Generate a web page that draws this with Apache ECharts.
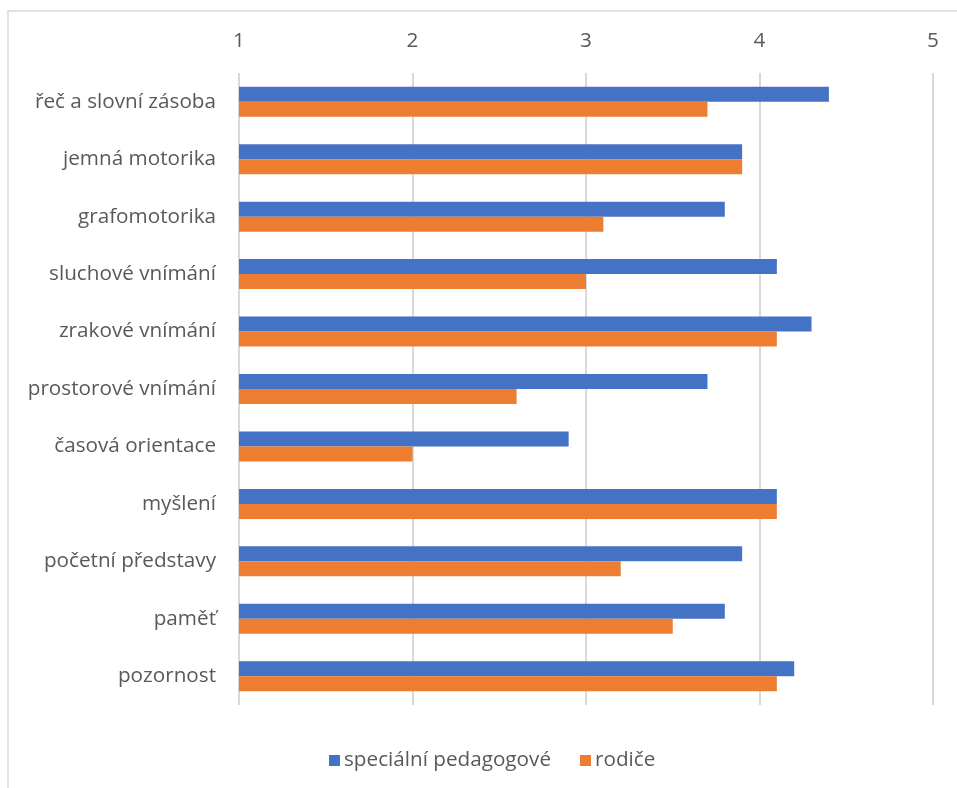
<!DOCTYPE html>
<html>
<head>
<meta charset="utf-8">
<script src="https://cdn.jsdelivr.net/npm/echarts@6/dist/echarts.min.js"></script>
<style>
  html, body { margin: 0; padding: 0; background: #ffffff; }
  #chart { width: 957px; height: 788px; }
</style>
</head>
<body>
<div id="chart"></div>
<script>
// Skills assessed, listed top to bottom
const categories = [
  'řeč a slovní zásoba',
  'jemná motorika',
  'grafomotorika',
  'sluchové vnímání',
  'zrakové vnímání',
  'prostorové vnímání',
  'časová orientace',
  'myšlení',
  'početní představy',
  'paměť',
  'pozornost'
];

// Average ratings (scale 1–5)
const specialPedagogues = [4.4, 3.9, 3.8, 4.1, 4.3, 3.7, 2.9, 4.1, 3.9, 3.8, 4.2];
const parents = [3.7, 3.9, 3.1, 3.0, 4.1, 2.6, 2.0, 4.1, 3.2, 3.5, 4.1];

const seriesNames = ['speciální pedagogové', 'rodiče'];
const axisTicks = [1, 2, 3, 4, 5];

const textColor = '#595959';
const fontFamily = '"Open Sans", "Noto Sans", sans-serif';
const fontSize = 20.7;

const chart = echarts.init(document.getElementById('chart'), null, { renderer: 'canvas' });

chart.setOption({
  backgroundColor: '#ffffff',
  animation: false,
  textStyle: { fontFamily: fontFamily, color: textColor },
  graphic: [{
    type: 'rect',
    shape: { x: 8, y: 11, width: 1000, height: 900 },
    style: { fill: 'none', stroke: '#d9d9d9', lineWidth: 1.5 },
    silent: true,
    z: -1
  }],
  grid: { left: 239, right: 24, top: 73, bottom: 83 },
  legend: {
    data: seriesNames,
    left: 324,
    top: 745,
    itemWidth: 11,
    itemHeight: 11,
    itemGap: 29,
    icon: 'rect',
    textStyle: { fontSize: fontSize, color: textColor, fontFamily: fontFamily, padding: [0, 0, 0, -1] }
  },
  xAxis: {
    type: 'value',
    position: 'top',
    min: axisTicks[0],
    max: axisTicks[axisTicks.length - 1],
    interval: 1,
    axisLine: { show: false },
    axisTick: { show: false },
    axisLabel: { fontSize: fontSize, color: textColor, margin: 21, fontFamily: fontFamily },
    splitLine: { show: true, lineStyle: { color: '#d9d9d9', width: 2 } }
  },
  yAxis: {
    type: 'category',
    data: categories,
    inverse: true,
    axisLine: { show: false },
    axisTick: { show: false },
    axisLabel: { fontSize: fontSize, color: textColor, margin: 23, fontFamily: fontFamily },
    splitLine: { show: false }
  },
  series: [
    {
      name: seriesNames[0],
      type: 'bar',
      data: specialPedagogues,
      barWidth: 15,
      barGap: '0%',
      itemStyle: { color: '#4472C4' }
    },
    {
      name: seriesNames[1],
      type: 'bar',
      data: parents,
      barWidth: 15,
      barGap: '0%',
      itemStyle: { color: '#ED7D31' }
    }
  ]
});
</script>
</body>
</html>
